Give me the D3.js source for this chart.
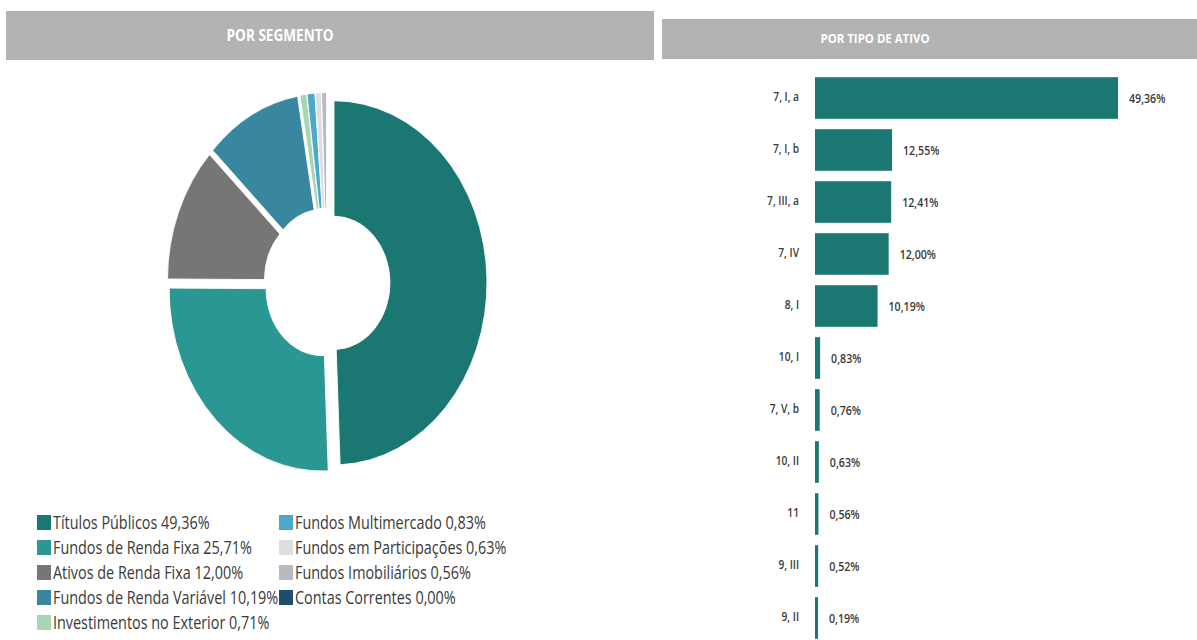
<!DOCTYPE html>
<html><head><meta charset="utf-8">
<script src="https://cdn.jsdelivr.net/npm/d3@7"></script>
<style>
body{margin:0;background:#fff;}
svg{display:block;}
text{font-family:"Open Sans","Noto Sans",sans-serif;}
</style></head>
<body>
<svg id="chart" width="1197" height="640"></svg>
<script>
// ---- data ----
const segmentLabels = ["Títulos Públicos","Fundos de Renda Fixa","Ativos de Renda Fixa","Fundos de Renda Variável","Investimentos no Exterior","Fundos Multimercado","Fundos em Participações","Fundos Imobiliários","Contas Correntes"];
const segmentValues = [49.36,25.71,12.00,10.19,0.71,0.83,0.63,0.56,0.00];
const segmentColors = ["#1b7772","#2a9792","#767676","#38879e","#a6d6b3","#4ba9c9","#dedede","#b9b9c1","#1f4d6e"];
const assetCategories = ["7, I, a","7, I, b","7, III, a","7, IV","8, I","10, I","7, V, b","10, II","11","9, III","9, II"];
const assetValues = [49.36,12.55,12.41,12.00,10.19,0.83,0.76,0.63,0.56,0.52,0.19];
const titles = ["POR SEGMENTO","POR TIPO DE ATIVO"];

const fmt = v => v.toFixed(2).replace(".", ",") + "%";
const svg = d3.select("#chart");
const CONDENSE = 0.8;

function addText(parent, x, y, txt, o) {
  const g = parent.append("g").attr("transform", `translate(${x},${y}) scale(${o.sx || CONDENSE},1)`);
  return g.append("text")
    .attr("text-anchor", o.anchor || "start")
    .attr("font-size", o.size)
    .attr("font-weight", o.weight || "normal")
    .attr("fill", o.fill || "#3a3a3a")
    .text(txt);
}

// ---- headers ----
svg.append("rect").attr("x",6).attr("y",11).attr("width",648).attr("height",49).attr("fill","#b3b3b3");
svg.append("rect").attr("x",662).attr("y",19).attr("width",535).attr("height",40).attr("fill","#b3b3b3");
addText(svg, 280, 41, titles[0], {size:16, weight:"bold", anchor:"middle", fill:"#fff", sx:0.85});
addText(svg, 875, 43, titles[1], {size:13, weight:"bold", anchor:"middle", fill:"#fff", sx:0.88});

// ---- donut ----
const pie = d3.pie().sort(null).value(d => d.v).startAngle(0).endAngle(2*Math.PI);
const arcs = pie(segmentLabels.map((l,i)=>({l, v:segmentValues[i], c:segmentColors[i]})));
const arc = d3.arc().innerRadius(56).outerRadius(153);
const explode = 7;
const donut = svg.append("g").attr("transform","translate(327,283) scale(1,1.19)");
donut.selectAll("path").data(arcs).join("path")
  .attr("d", arc)
  .attr("fill", d => d.data.c)
  .attr("stroke","#fff").attr("stroke-width",0.8)
  .attr("transform", d => {
    const a = (d.startAngle + d.endAngle)/2;
    return `translate(${Math.sin(a)*explode},${-Math.cos(a)*explode})`;
  });

// ---- legend ----
const legend = svg.append("g");
segmentLabels.forEach((l,i) => {
  const col = i < 5 ? 0 : 1;
  const row = i < 5 ? i : i - 5;
  const x = col === 0 ? 37 : 279;
  const y = 522 + row*25;
  legend.append("rect").attr("x",x).attr("y",y-7).attr("width",14).attr("height",15).attr("fill",segmentColors[i]);
  addText(legend, x+16, y+7, l + " " + fmt(segmentValues[i]), {size:18, fill:"#3a3a3a"});
});

// ---- bar chart ----
const y = d3.scaleBand().domain(assetCategories).range([72,644]).paddingInner(0.2).paddingOuter(0.1);
const x = d3.scaleLinear().domain([0, 49.36]).range([815, 1118]);
const bw = d => Math.max(x(d)-x(0), 3);
const bars = svg.append("g");
bars.selectAll("rect").data(assetValues).join("rect")
  .attr("x", x(0))
  .attr("y", (d,i) => y(assetCategories[i]))
  .attr("width", bw)
  .attr("height", y.bandwidth())
  .attr("fill","#1b7772");
assetValues.forEach((d,i) => {
  addText(bars, x(0) + bw(d) + 11, y(assetCategories[i]) + y.bandwidth()/2 + 5, fmt(d), {size:12.5, weight:600, fill:"#3a3a3a", sx:0.85});
  addText(bars, 799, y(assetCategories[i]) + y.bandwidth()/2 + 3, assetCategories[i], {size:12, weight:600, anchor:"end", fill:"#3a3a3a", sx:0.85});
});
</script>
</body></html>
